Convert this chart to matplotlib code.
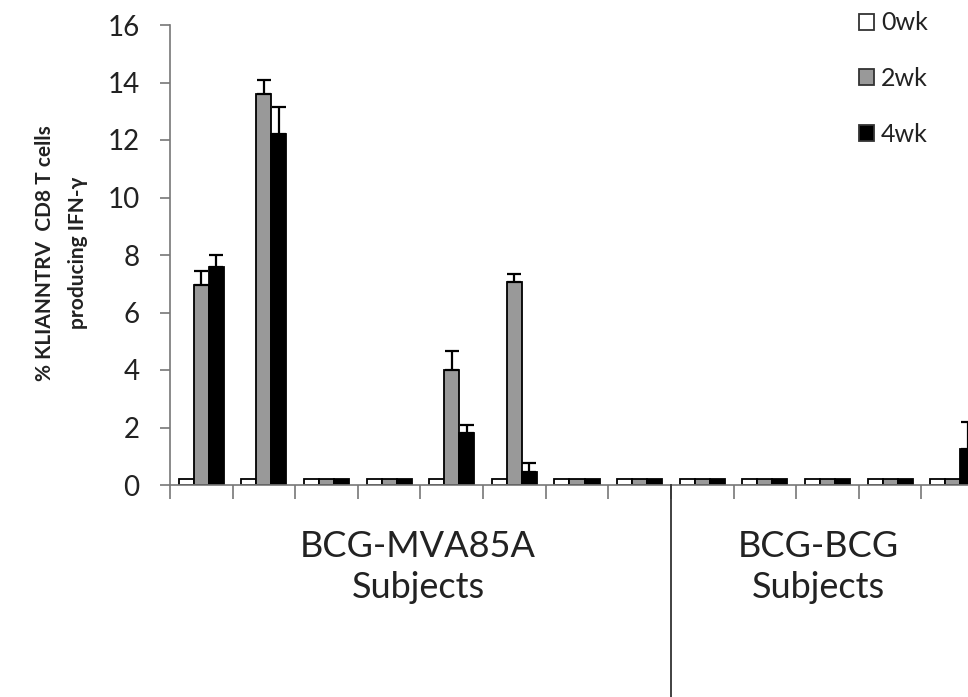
import numpy as np
import matplotlib.pyplot as plt
from matplotlib.patches import Patch
from matplotlib.lines import Line2D
from matplotlib.transforms import blended_transform_factory

plt.rcParams['font.family'] = ['Lato', 'DejaVu Sans']

# one group per subject: 8 BCG-MVA85A then 5 BCG-BCG
wk0 = [0.2] * 13
wk2 = [6.95, 13.6, 0.2, 0.2, 4.0, 7.05, 0.2, 0.2, 0.2, 0.2, 0.2, 0.2, 0.2]
wk4 = [7.6, 12.2, 0.2, 0.2, 1.8, 0.45, 0.2, 0.2, 0.2, 0.2, 0.2, 0.2, 1.25]
err2 = [0.5, 0.5, 0, 0, 0.65, 0.3, 0, 0, 0, 0, 0, 0, 0]
err4 = [0.4, 0.95, 0, 0, 0.3, 0.3, 0, 0, 0, 0, 0, 0, 0.95]
labels = ['0wk', '2wk', '4wk']
colors = ['white', '#999999', 'black']
n_mva = 8

fig = plt.figure(figsize=(9.68, 6.97), dpi=100)
# axes runs past the right edge, last group gets cut like in the original
ax = fig.add_axes([170 / 968, 212 / 697, 814 / 968, 460 / 697])

x = np.arange(13) + 0.5
w = 0.24
for k, (vals, c) in enumerate(zip([wk0, wk2, wk4], colors)):
    ax.bar(x + (k - 1) * w, vals, w, color=c, edgecolor='black', linewidth=1.3, zorder=2)

for k, (vals, errs) in enumerate([(wk2, err2), (wk4, err4)], start=1):
    vals = np.array(vals)
    errs = np.array(errs)
    m = errs > 0
    ax.errorbar(x[m] + (k - 1) * w, vals[m], yerr=[np.zeros(m.sum()), errs[m]],
                fmt='none', ecolor='black', elinewidth=1.6, capsize=5, capthick=1.6, zorder=3)

ax.set_xlim(0, 13)
ax.set_ylim(0, 16)
ax.set_yticks(range(0, 17, 2))
ax.set_xticks(range(0, 14))
ax.set_xticklabels([])
for s in ['top', 'right']:
    ax.spines[s].set_visible(False)
for s in ['left', 'bottom']:
    ax.spines[s].set_color('#777777')
    ax.spines[s].set_linewidth(1.2)
ax.tick_params(axis='y', length=7, width=1.2, color='#777777', labelsize=20, pad=15, labelcolor='#222222')
ax.tick_params(axis='x', length=10, width=1.2, color='#777777')

# divider between the two subject groups
tr = blended_transform_factory(ax.transData, fig.transFigure)
fig.add_artist(Line2D([n_mva, n_mva], [0, 212 / 697], transform=tr, color='#333333', linewidth=1.3))

fig.text(418 / 968, 1 - 567 / 697, 'BCG-MVA85A\nSubjects', ha='center', va='center',
         fontsize=26, color='#222222', linespacing=1.3)
fig.text(818 / 968, 1 - 567 / 697, 'BCG-BCG\nSubjects', ha='center', va='center',
         fontsize=26, color='#222222', linespacing=1.3)

fig.text(45 / 968, 1 - 253 / 697, '% KLIANNTRV  CD8 T cells', rotation=90, ha='center', va='center',
         fontsize=15, fontweight='bold', color='#222222')
fig.text(78 / 968, 1 - 253 / 697, 'producing IFN-γ', rotation=90, ha='center', va='center',
         fontsize=15, fontweight='bold', color='#222222')

handles = [Patch(facecolor=c, edgecolor='#333333', linewidth=1.3) for c in colors]
fig.legend(handles, labels, loc='upper left', bbox_to_anchor=(836 / 968, 1 + 11 / 697),
           frameon=False, fontsize=18, handlelength=0.6, handleheight=0.6,
           handletextpad=0.3, labelspacing=1.3, labelcolor='#222222')

fig.savefig('out.png', dpi=100)
